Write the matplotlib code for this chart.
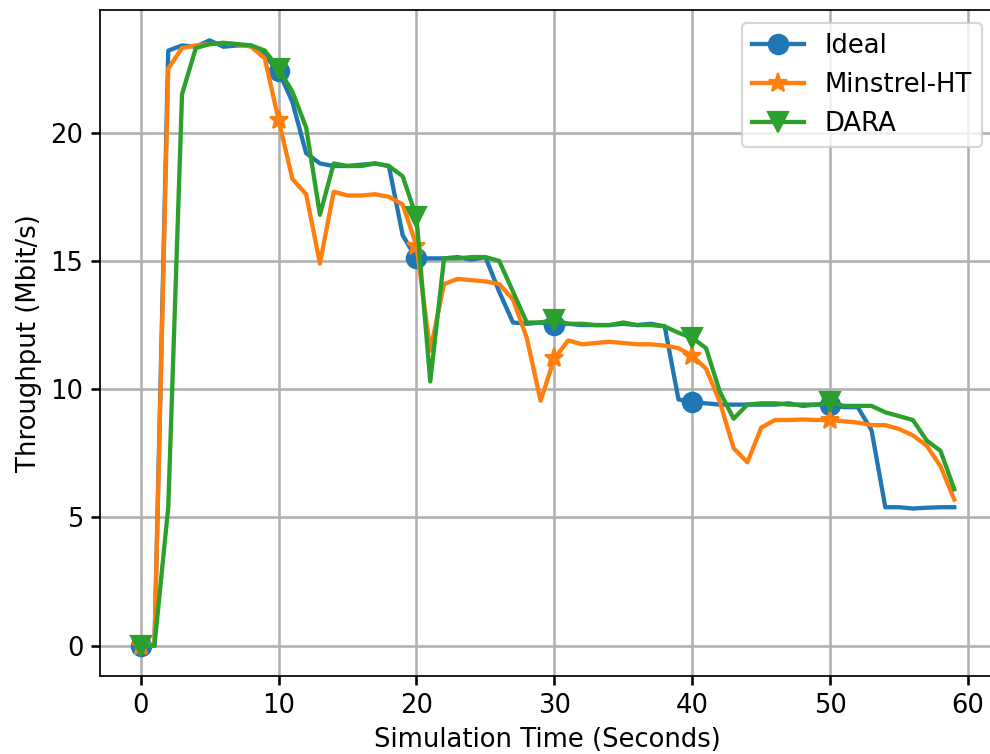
import numpy as np
import matplotlib
matplotlib.use("Agg")
import matplotlib.pyplot as plt

t = np.arange(60)

ideal = [0, 0, 23.2, 23.4, 23.35, 23.6, 23.35, 23.4, 23.4, 23.0,
         22.4, 21.2, 19.2, 18.8, 18.7, 18.7, 18.75, 18.8, 18.7, 16.0,
         15.1, 15.1, 15.1, 15.15, 15.05, 15.15, 13.8, 12.6, 12.55, 12.6,
         12.5, 12.55, 12.5, 12.5, 12.5, 12.55, 12.5, 12.55, 12.45, 9.6,
         9.5, 9.45, 9.4, 9.4, 9.4, 9.4, 9.4, 9.45, 9.35, 9.4,
         9.4, 9.3, 9.3, 8.4, 5.4, 5.4, 5.35, 5.38, 5.4, 5.4]

minstrel = [0, 0, 22.5, 23.3, 23.4, 23.45, 23.5, 23.45, 23.35, 22.9,
            20.5, 18.2, 17.6, 14.9, 17.7, 17.55, 17.55, 17.6, 17.5, 17.2,
            15.6, 11.5, 14.1, 14.3, 14.25, 14.2, 14.1, 13.5, 12.0, 9.55,
            11.2, 11.9, 11.75, 11.8, 11.85, 11.8, 11.75, 11.75, 11.7, 11.6,
            11.3, 10.8, 9.5, 7.7, 7.15, 8.5, 8.8, 8.8, 8.82, 8.8,
            8.8, 8.75, 8.7, 8.6, 8.6, 8.45, 8.2, 7.8, 7.0, 5.7]

dara = [0, 0, 5.4, 21.5, 23.3, 23.45, 23.5, 23.45, 23.4, 23.2,
        22.5, 21.6, 20.2, 16.8, 18.8, 18.7, 18.7, 18.8, 18.7, 18.3,
        16.7, 10.3, 15.1, 15.1, 15.15, 15.15, 15.0, 13.8, 12.6, 12.6,
        12.7, 12.55, 12.55, 12.5, 12.5, 12.6, 12.5, 12.5, 12.45, 12.2,
        12.0, 11.6, 9.9, 8.85, 9.4, 9.45, 9.45, 9.4, 9.4, 9.4,
        9.5, 9.35, 9.35, 9.35, 9.1, 8.95, 8.8, 8.0, 7.6, 6.1]

plt.rcParams['font.size'] = 12

dpi = 155
fig = plt.figure(figsize=(990 / dpi, 754 / dpi), dpi=dpi)
# right spine falls just past the image edge, as in the reference
ax = fig.add_axes([0.101, 0.1034, 0.904, 0.8833])

ax.plot(t, ideal, marker='o', markevery=10, markersize=9, linewidth=2, label='Ideal')
ax.plot(t, minstrel, marker='*', markevery=10, markersize=9, linewidth=2, label='Minstrel-HT')
ax.plot(t, dara, marker='v', markevery=10, markersize=9, linewidth=2, label='DARA')

ax.set_xlabel('Simulation Time (Seconds)')
ax.set_ylabel('Throughput (Mbit/s)')
ax.tick_params(length=4.2, width=1.2)
ax.grid(True, linewidth=1.2)
ax.legend(loc='upper right')

fig.savefig('out.png', dpi=dpi)
